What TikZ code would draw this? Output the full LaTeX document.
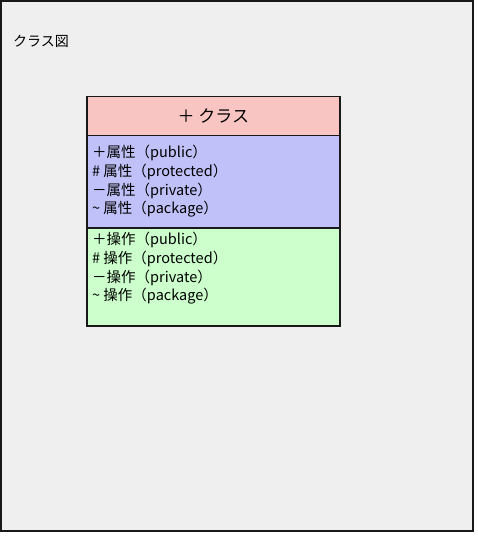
\documentclass[tikz,border=0pt]{standalone}
\usepackage{fontspec}
\setmainfont{Noto Sans CJK JP}
\usetikzlibrary{positioning}

\definecolor{framegray}{HTML}{EFEFEF}
\definecolor{headpink}{HTML}{F8C5C3}
\definecolor{attrblue}{HTML}{C1C1F9}
\definecolor{opgreen}{HTML}{CCFFCC}

\tikzset{
  compartment/.style={draw=black!90, line width=1.5pt, minimum width=253pt, inner sep=0pt, anchor=north west},
  members/.style={anchor=north west, align=left, inner sep=0pt, font=\fontsize{14.5}{18.7}\selectfont}
}

\begin{document}
\begin{tikzpicture}[x=1pt, y=-1pt]

  % Fix the page to the reference size
  \useasboundingbox (0,0) rectangle (477,537);

  % Outer frame of the diagram
  \draw[line width=1.5pt, draw=black!90, fill=framegray] (1,1) rectangle (473,531);
  \node[anchor=west, inner sep=0pt, font=\fontsize{14}{16}\selectfont] (title) at (13,41) {クラス図};

  % Class header compartment
  \node[compartment, fill=headpink, minimum height=39pt, font=\fontsize{17}{19}\selectfont] (head) at (86,96) {＋ クラス};

  % Attribute compartment
  \node[compartment, fill=attrblue, minimum height=92pt] (attr) at (86,135) {};
  \node[members] (attrtext) at (92,145)
    {＋属性（public）\\\# 属性（protected）\\－属性（private）\\\textasciitilde\ 属性（package）};

  % Operation compartment
  \node[compartment, fill=opgreen, minimum height=98pt] (ops) at (86,227) {};
  \node[members] (opstext) at (92,232)
    {＋操作（public）\\\# 操作（protected）\\－操作（private）\\\textasciitilde\ 操作（package）};

\end{tikzpicture}
\end{document}
